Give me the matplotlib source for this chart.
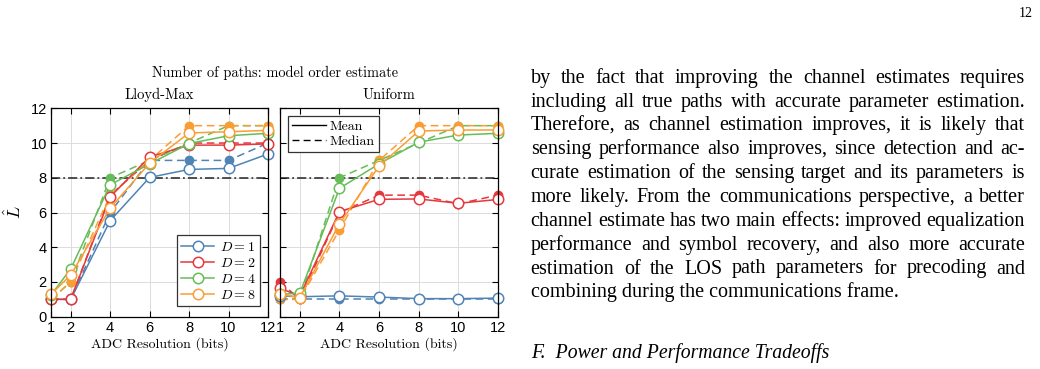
import matplotlib
matplotlib.use('Agg')
import matplotlib.pyplot as plt
from matplotlib.lines import Line2D
from matplotlib.font_manager import FontProperties

# ---------------- data ----------------
bits = [1, 2, 4, 6, 8, 10, 12]
x_ticks = [1, 2, 4, 6, 8, 10, 12]
y_ticks = [0, 2, 4, 6, 8, 10, 12]
true_paths = 8
D_values = [1, 2, 4, 8]

lm_mean_D1 = [1.0, 1.0, 5.53, 8.02, 8.48, 8.54, 9.37]
lm_median_D1 = [1, 1, 6, 9, 9, 9, 10]
lm_mean_D2 = [1.0, 1.0, 6.9, 9.2, 9.88, 9.88, 9.95]
lm_median_D2 = [1, 1, 7, 9, 10, 10, 10]
lm_mean_D4 = [1.25, 2.75, 7.6, 8.8, 9.97, 10.42, 10.56]
lm_median_D4 = [1, 2, 8, 9, 10, 11, 11]
lm_mean_D8 = [1.29, 2.4, 6.25, 8.85, 10.58, 10.65, 10.73]
lm_median_D8 = [1, 2, 7, 9, 11, 11, 11]

un_mean_D1 = [1.2, 1.15, 1.2, 1.13, 1.04, 1.04, 1.07]
un_median_D1 = [1, 1, 1, 1, 1, 1, 1]
un_mean_D2 = [1.63, 1.2, 6.05, 6.76, 6.78, 6.53, 6.75]
un_median_D2 = [2, 1, 6, 7, 7, 6.5, 7]
un_mean_D4 = [1.3, 1.34, 7.39, 8.8, 10.05, 10.46, 10.56]
un_median_D4 = [1, 1, 8, 9, 10, 11, 11]
un_mean_D8 = [1.3, 1.1, 5.34, 8.68, 10.69, 10.75, 10.75]
un_median_D8 = [1, 1, 5, 9, 11, 11, 11]

suptitle = "Number of paths: model order estimate"
panel_titles = ["Lloyd-Max", "Uniform"]
xlabel = "ADC Resolution (bits)"
ylabel = r"$\hat{L}$"

body_lines = [
    "by the fact that improving the channel estimates requires",
    "including all true paths with accurate parameter estimation.",
    "Therefore, as channel estimation improves, it is likely that",
    "sensing performance also improves, since detection and ac-",
    "curate estimation of the sensing target and its parameters is",
    "more likely. From the communications perspective, a better",
    "channel estimate has two main effects: improved equalization",
    "performance and symbol recovery, and also more accurate",
    "estimation of the LOS path parameters for precoding and",
    "combining during the communications frame.",
]
heading = "F.  Power and Performance Tradeoffs"
page_number = "12"

# ---------------- style ----------------
plt.rcParams['mathtext.fontset'] = 'cm'
colors = {1: '#4f84b5', 2: '#e6383d', 4: '#66bd58', 8: '#fb9d35'}
W, H = 1040, 369
fig = plt.figure(figsize=(W / 100, H / 100), dpi=100)

def px_ax(x0, x1, ytop, ybot):
    return fig.add_axes([x0 / W, 1 - ybot / H, (x1 - x0) / W, (ybot - ytop) / H])

axL = px_ax(51, 268, 108.3, 316.7)
axR = px_ax(280, 498, 108.3, 316.7)

data = {
    axL: [(1, lm_mean_D1, lm_median_D1), (2, lm_mean_D2, lm_median_D2),
          (4, lm_mean_D4, lm_median_D4), (8, lm_mean_D8, lm_median_D8)],
    axR: [(1, un_mean_D1, un_median_D1), (2, un_mean_D2, un_median_D2),
          (4, un_mean_D4, un_median_D4), (8, un_mean_D8, un_median_D8)],
}

tick_fp = FontProperties(family='Liberation Sans', size=10.5)
for ax in (axL, axR):
    ax.set_xlim(1, 12)
    ax.set_ylim(0, 12)
    ax.set_xticks(x_ticks)
    ax.set_yticks(y_ticks)
    ax.grid(True, color='#dcdcdc', linewidth=0.7)
    ax.set_axisbelow(True)
    ax.tick_params(direction='in', length=4, width=0.8, top=True, right=True,
                   pad=3)
    for lab in ax.get_xticklabels() + ax.get_yticklabels():
        lab.set_fontproperties(tick_fp)
    for s in ax.spines.values():
        s.set_linewidth(0.9)
        s.set_zorder(5)
    ax.axhline(true_paths, color='#222222', lw=1.1, ls=(0, (6, 2, 1.2, 2)), zorder=1.5)
    for D, mean, med in data[ax]:
        c = colors[D]
        ax.plot(bits, med, ls=(0, (5, 3)), color=c, lw=1.1, marker='o', ms=6,
                mfc=c, mec=c, zorder=2, clip_on=False)
        ax.plot(bits, mean, ls='-', color=c, lw=1.1, marker='o', ms=7.5,
                mfc='white', mec=c, mew=1.1, zorder=3, clip_on=False)
    ax.set_xlabel(xlabel, family='cmr10', fontsize=10, labelpad=2)

axR.set_yticklabels([])
fig.text(14 / W, 1 - 212 / H, ylabel, fontsize=13, rotation=90,
         ha='center', va='center')

# legends
hD = [Line2D([], [], color=colors[D], lw=1.1, marker='o', ms=7.5, mfc='white',
             mec=colors[D], mew=1.1) for D in D_values]
legD = axL.legend(hD, [rf"$D = {D}$" for D in D_values], loc='lower right',
                  bbox_to_anchor=(0.963, 0.051), borderaxespad=0, fontsize=10,
                  handlelength=2.4, handletextpad=0.4, labelspacing=0.15,
                  borderpad=0.3, fancybox=False, framealpha=1, edgecolor='#333333')
legD.get_frame().set_linewidth(0.9)
legD.set_zorder(10)

hM = [Line2D([], [], color='black', lw=1.0, ls='-'),
      Line2D([], [], color='black', lw=1.0, ls=(0, (5, 3)))]
legM = axR.legend(hM, ["Mean", "Median"], loc='upper left',
                  bbox_to_anchor=(0.037, 0.962), borderaxespad=0,
                  prop=FontProperties(family='cmr10', size=10),
                  handlelength=2.4, handletextpad=0.3, labelspacing=0.15,
                  borderpad=0.3, fancybox=False, framealpha=1, edgecolor='#333333')
legM.get_frame().set_linewidth(0.9)
legM.set_zorder(10)

# titles
fig.text(275 / W, 1 - 73 / H, suptitle, family='cmr10', fontsize=10.3,
         ha='center', va='center')
fig.text(159.5 / W, 1 - 95 / H, panel_titles[0], family='cmr10', fontsize=10.5,
         ha='center', va='center')
fig.text(389 / W, 1 - 95 / H, panel_titles[1], family='cmr10', fontsize=10.5,
         ha='center', va='center')

# ---------------- right text column (justified) ----------------
fig.canvas.draw()
renderer = fig.canvas.get_renderer()

def tw(s, fp):
    return renderer.get_text_width_height_descent(s, fp, ismath=False)[0]

body_fp = FontProperties(family='Liberation Serif', size=13)
target_last = 896.7 - 530.7
body_fp.set_size(13 * target_last / tw(body_lines[-1], body_fp))

x_left, x_right = 530.7, 1025.0
base0, lstep = 82.7, 23.85
for i, line in enumerate(body_lines):
    yb = 1 - (base0 + i * lstep) / H
    words = line.split(' ')
    if i == len(body_lines) - 1:
        fig.text(x_left / W, yb, line, fontproperties=body_fp, ha='left', va='baseline')
        continue
    widths = [tw(w, body_fp) for w in words]
    gap = (x_right - x_left - sum(widths)) / (len(words) - 1)
    x = x_left
    for w, wd in zip(words, widths):
        fig.text(x / W, yb, w, fontproperties=body_fp, ha='left', va='baseline')
        x += wd + gap

head_fp = FontProperties(family='Liberation Serif', style='italic', size=13)
head_fp.set_size(13 * (828 - 531) / tw(heading, head_fp))
fig.text(531 / W, 1 - 358.3 / H, heading, fontproperties=head_fp, ha='left', va='baseline')

fig.text(1033 / W, 1 - 16.7 / H, page_number, family='Liberation Serif', fontsize=10,
         ha='right', va='baseline')

fig.savefig('out.png', dpi=100)
